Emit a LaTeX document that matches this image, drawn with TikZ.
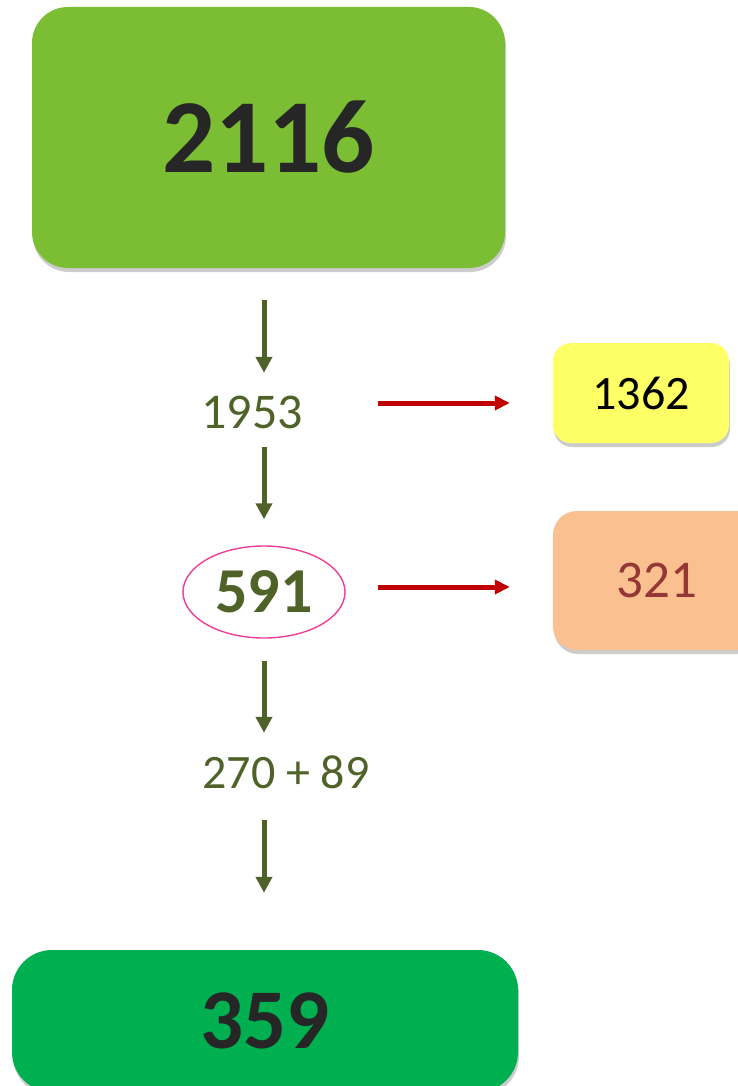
\documentclass[tikz,border=0pt]{standalone}
\usepackage{fontspec}
\setmainfont{Carlito}
\usetikzlibrary{shapes.geometric,arrows.meta,shadows}
\definecolor{topgreen}{HTML}{7BBD33}
\definecolor{botgreen}{HTML}{00B050}
\definecolor{darktxt}{HTML}{262626}
\definecolor{olive}{HTML}{4F6228}
\definecolor{redarr}{HTML}{C00000}
\definecolor{yellowbox}{HTML}{FFFF66}
\definecolor{orangebox}{HTML}{FAC090}
\definecolor{brownred}{HTML}{953735}
\definecolor{pinkline}{HTML}{EE3E96}
\tikzset{
  box/.style={rounded corners=#1, inner sep=0pt,
    drop shadow={shadow xshift=1pt, shadow yshift=-4pt, opacity=0.2, fill=black}},
  lbl/.style={inner sep=0pt, minimum height=60pt, text=olive},
  garrow/.style={draw=olive, line width=5pt, -{Triangle[length=16pt,width=16pt]}},
  rarrow/.style={draw=redarr, line width=5pt, -{Triangle[length=15pt,width=14pt]}}
}
\begin{document}
\begin{tikzpicture}[x=1pt,y=-1pt]
\useasboundingbox (0,0) rectangle (738,1086);
\node[box=36pt, fill=topgreen, minimum width=473pt, minimum height=261pt, text=darktxt,
  font=\fontsize{105}{120}\selectfont\bfseries] (top) at (268.5,137.5) {2116};
\node[lbl, font=\fontsize{50}{60}\selectfont] (n1953) at (252,412) {1953};
\node[ellipse, draw=pinkline, line width=1.4pt, minimum width=162pt, minimum height=92pt,
  inner sep=0pt, text=olive, font=\fontsize{64}{72}\selectfont\bfseries] (ell) at (264,592) {591};
\node[lbl, font=\fontsize{48}{56}\selectfont] (sum) at (286,772) {270 + 89};
\node[box=40pt, fill=botgreen, minimum width=506pt, minimum height=142pt, text=darktxt,
  font=\fontsize{85}{100}\selectfont\bfseries] (bot) at (265,1021) {359};
\node[box=18pt, fill=yellowbox, minimum width=176pt, minimum height=100pt, text=black,
  font=\fontsize{48}{56}\selectfont] (yel) at (641,393) {\raisebox{-4pt}{1362}};
\node[box=24pt, fill=orangebox, minimum width=208pt, minimum height=139pt, text=brownred,
  font=\fontsize{53}{60}\selectfont] (ora) at (657,580.5) {321};
\draw[garrow, shorten <=32pt, shorten >=9pt] (top.south -| ell.center) -- (n1953.north -| ell.center);
\draw[garrow, shorten <=5pt, shorten >=26pt] (n1953.south -| ell.center) -- (ell.north);
\draw[garrow, shorten <=22pt, shorten >=9pt] (ell.south) -- (sum.north -| ell.center);
\draw[garrow, shorten <=18pt, shorten >=57pt] (sum.south -| ell.center) -- (bot.north -| ell.center);
\coordinate (r1s) at (378,403);
\coordinate (r2s) at (378,587);
\draw[rarrow, shorten >=43pt] (r1s) -- (r1s -| yel.west);
\draw[rarrow, shorten >=43pt] (r2s) -- (r2s -| ora.west);
\end{tikzpicture}
\end{document}
